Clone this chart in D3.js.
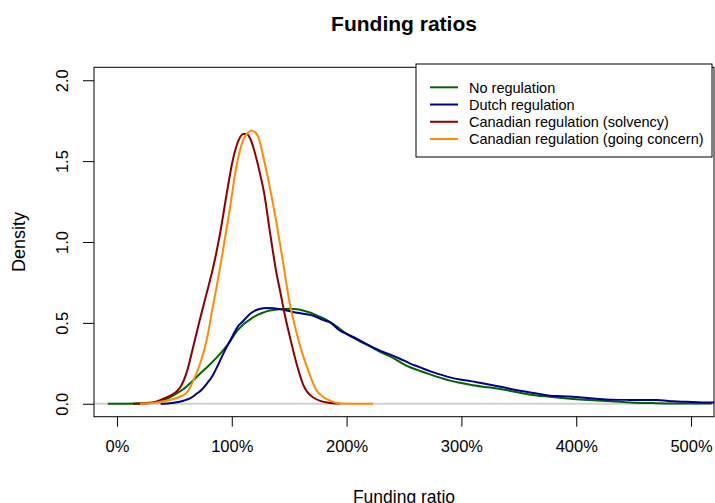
<!DOCTYPE html>
<html>
<head>
<meta charset="utf-8">
<title>Funding ratios</title>
<style>
  body { margin: 0; background: #fff; }
  text { font-family: "Liberation Sans", Arial, sans-serif; }
</style>
</head>
<body>
<script src="https://d3js.org/d3.v7.min.js"></script>
<script>
// funding ratio in %, density
var noRegX = [-8, 10, 23, 35, 43, 50, 58, 65, 72, 80, 87, 93, 98, 104, 110, 116, 122, 127, 133, 139, 145, 151, 157, 162, 168, 174, 180, 186, 193, 200, 210, 220, 230, 240, 252, 262, 272, 282, 290, 300, 310, 325, 340, 360, 377, 397, 415, 430, 447, 467, 485, 500, 518];
var noRegY = [0, 0, 0.003, 0.012, 0.029, 0.055, 0.091, 0.135, 0.184, 0.237, 0.287, 0.335, 0.38, 0.445, 0.49, 0.522, 0.548, 0.563, 0.576, 0.582, 0.586, 0.587, 0.584, 0.577, 0.564, 0.546, 0.528, 0.504, 0.47, 0.432, 0.392, 0.356, 0.318, 0.285, 0.236, 0.208, 0.183, 0.16, 0.143, 0.128, 0.114, 0.1, 0.083, 0.056, 0.043, 0.03, 0.021, 0.016, 0.008, 0.004, 0.002, 0.002, 0.001];

var dutchX = [38, 48, 58, 64, 69, 74, 78, 83, 87, 91, 95.5, 100, 106, 110, 116, 121, 125, 130, 136, 142, 150, 157, 165, 171, 180, 186, 194, 200, 209, 215, 223, 230, 238, 246, 255, 264, 273, 282, 290, 300, 308, 316, 325, 334, 342, 351, 360, 368, 377, 387, 397, 410, 426, 445, 470, 485, 496, 510, 520];
var dutchY = [0, 0.005, 0.019, 0.035, 0.06, 0.088, 0.122, 0.17, 0.225, 0.285, 0.35, 0.41, 0.484, 0.512, 0.556, 0.578, 0.587, 0.592, 0.591, 0.585, 0.573, 0.562, 0.553, 0.544, 0.517, 0.502, 0.453, 0.432, 0.401, 0.378, 0.349, 0.325, 0.304, 0.28, 0.25, 0.225, 0.2, 0.18, 0.163, 0.148, 0.14, 0.13, 0.118, 0.105, 0.093, 0.081, 0.07, 0.06, 0.05, 0.047, 0.043, 0.035, 0.027, 0.024, 0.023, 0.015, 0.012, 0.008, 0.008];

var solvX = [14, 30, 43, 50, 55, 61, 66, 72, 78, 84, 90, 95.6, 101, 105.7, 110, 113, 116, 119, 122, 125, 128, 133, 139, 142, 146, 150.7, 156.5, 162, 166, 171, 177, 183, 194];
var solvY = [0, 0.005, 0.039, 0.065, 0.1, 0.2, 0.34, 0.515, 0.68, 0.85, 1.06, 1.3, 1.51, 1.625, 1.668, 1.668, 1.64, 1.58, 1.5, 1.41, 1.31, 1.073, 0.805, 0.7, 0.556, 0.411, 0.246, 0.122, 0.07, 0.039, 0.018, 0.008, 0];

var goingX = [20, 35, 49, 55, 61, 66.5, 72.3, 78, 84, 87, 92.6, 98.4, 104, 110, 114, 117.3, 120, 123, 127.4, 133, 139, 145, 150, 153.6, 159, 166.6, 174, 180, 185.5, 194, 210, 223];
var goingY = [0, 0.008, 0.029, 0.045, 0.07, 0.143, 0.246, 0.39, 0.62, 0.73, 0.96, 1.21, 1.466, 1.632, 1.675, 1.69, 1.68, 1.652, 1.528, 1.342, 1.115, 0.86, 0.64, 0.52, 0.37, 0.205, 0.081, 0.04, 0.019, 0.002, 0, 0];

var seriesNames = ["No regulation", "Dutch regulation", "Canadian regulation (solvency)", "Canadian regulation (going concern)"];
var seriesColors = ["#006400", "#00008B", "#8B0000", "#FF8C00"];
var xTicks = [0, 100, 200, 300, 400, 500];
var yTicks = [0, 0.5, 1, 1.5, 2];

var width = 715, height = 503;
var plotL = 94, plotR = 714, plotT = 67.3, plotB = 416.7;

var svg = d3.select("body").append("svg")
    .attr("width", width).attr("height", height);

var x = d3.scaleLinear().domain([-20, 520]).range([plotL, plotR]);
var y = d3.scaleLinear().domain([-0.08, 2.08]).range([plotB, plotT]);

// zero line
svg.append("line")
    .attr("x1", plotL).attr("x2", plotR)
    .attr("y1", y(0)).attr("y2", y(0))
    .attr("stroke", "#d0d0d0").attr("stroke-width", 2);

var line = d3.line()
    .x(function (d) { return x(d[0]); })
    .y(function (d) { return y(d[1]); })
    .curve(d3.curveMonotoneX);

var allX = [noRegX, dutchX, solvX, goingX];
var allY = [noRegY, dutchY, solvY, goingY];

for (var s = 0; s < 4; s++) {
    var pts = d3.zip(allX[s], allY[s]);
    svg.append("path")
        .attr("d", line(pts))
        .attr("fill", "none")
        .attr("stroke", seriesColors[s])
        .attr("stroke-width", 2)
        .attr("stroke-linejoin", "round");
}

// box
svg.append("rect")
    .attr("x", plotL).attr("y", plotT)
    .attr("width", plotR - plotL).attr("height", plotB - plotT)
    .attr("fill", "none").attr("stroke", "#000").attr("stroke-width", 1);

// x axis
var xAxis = d3.axisBottom(x).tickValues(xTicks).tickSize(10).tickPadding(14)
    .tickFormat(function (d) { return d + "%"; });
var gx = svg.append("g").attr("transform", "translate(0," + plotB + ")").call(xAxis);
gx.select(".domain").remove();
gx.selectAll("text").attr("font-size", "16.5px").attr("fill", "#000")
    .attr("font-family", "Liberation Sans, Arial, sans-serif");

// y axis, labels rotated like R
var yAxis = d3.axisLeft(y).tickValues(yTicks).tickSize(11)
    .tickFormat(d3.format(".1f"));
var gy = svg.append("g").attr("transform", "translate(" + plotL + ",0)").call(yAxis);
gy.select(".domain").remove();
gy.selectAll(".tick text")
    .attr("font-size", "16.5px").attr("fill", "#000")
    .attr("font-family", "Liberation Sans, Arial, sans-serif")
    .attr("x", null).attr("dy", null)
    .attr("text-anchor", "middle")
    .attr("transform", "translate(-26,0) rotate(-90)");

// titles
svg.append("text")
    .text("Funding ratios")
    .attr("x", (plotL + plotR) / 2).attr("y", 31)
    .attr("text-anchor", "middle")
    .attr("font-size", "21px").attr("font-weight", "bold");

svg.append("text")
    .text("Funding ratio")
    .attr("x", (plotL + plotR) / 2).attr("y", 503)
    .attr("text-anchor", "middle")
    .attr("font-size", "17.5px");

svg.append("text")
    .text("Density")
    .attr("transform", "translate(25," + (plotT + plotB) / 2 + ") rotate(-90)")
    .attr("text-anchor", "middle")
    .attr("font-size", "18px");

// legend
var legend = svg.append("g");
legend.append("rect")
    .attr("x", 416).attr("y", 64)
    .attr("width", 712 - 416).attr("height", 157 - 64)
    .attr("fill", "#fff").attr("stroke", "#000").attr("stroke-width", 1);

var rowY = d3.scaleLinear().domain([0, 3]).range([87.3, 139]);
seriesNames.forEach(function (name, i) {
    legend.append("line")
        .attr("x1", 430).attr("x2", 458)
        .attr("y1", rowY(i)).attr("y2", rowY(i))
        .attr("stroke", seriesColors[i]).attr("stroke-width", 2);
    legend.append("text")
        .text(name)
        .attr("x", 469).attr("y", rowY(i) + 5.2)
        .attr("font-size", "14.5px");
});
</script>
</body>
</html>
